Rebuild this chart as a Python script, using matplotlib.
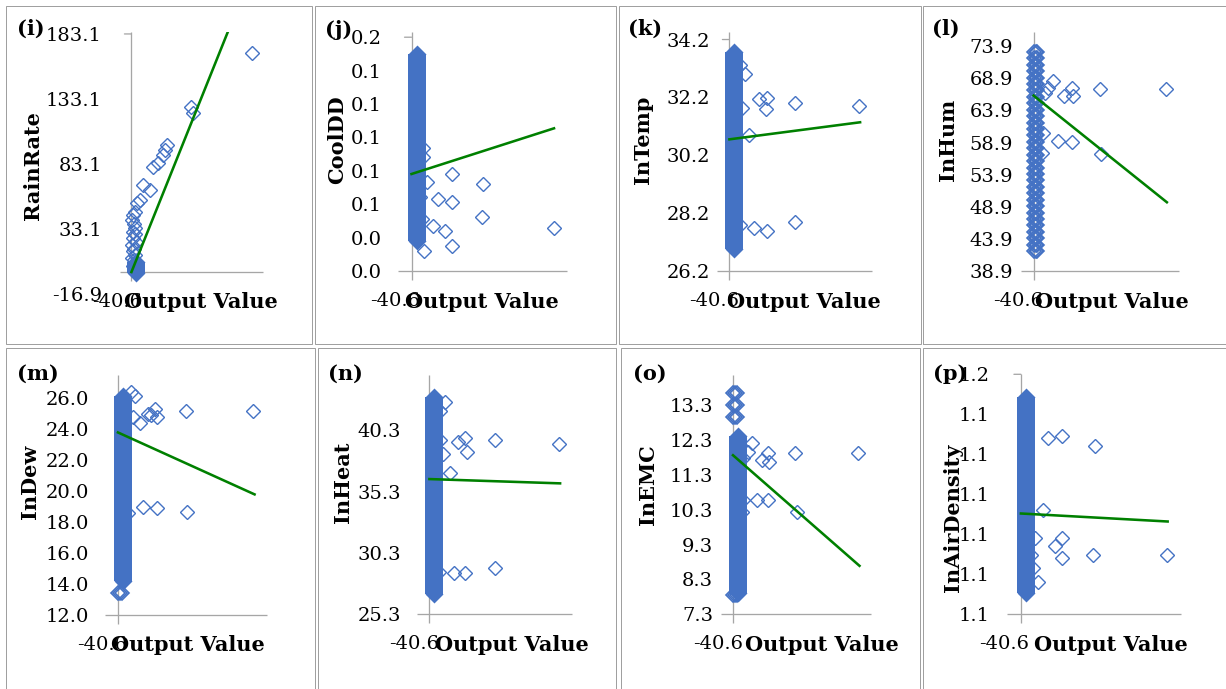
import matplotlib
matplotlib.use('Agg')
import matplotlib.pyplot as plt
from matplotlib.patches import Rectangle

W, H, DPI = 1226, 689, 100
PT = 72.0 / DPI  # points per pixel

BLUE = '#4472C4'
GREEN = '#008000'
AXIS_GRAY = '#a6a6a6'
BORDER = '#a0a0a0'
plt.rcParams['font.family'] = ['DejaVu Serif']

# ---------------- data ----------------
X_MIN, X_MAX = -40.6, 467.0
X_TICK_TEXT = '-40.6'
X_TITLE = 'Output Value'

letters = ['(i)', '(j)', '(k)', '(l)', '(m)', '(n)', '(o)', '(p)']
y_titles = ['RainRate', 'CoolDD', 'InTemp', 'InHum', 'InDew', 'InHeat', 'InEMC', 'InAirDensity']

y_ticks = [
    [-16.9, 33.1, 83.1, 133.1, 183.1],
    [0.0, 0.025, 0.05, 0.075, 0.1, 0.125, 0.15, 0.175],
    [26.2, 28.2, 30.2, 32.2, 34.2],
    [38.9, 43.9, 48.9, 53.9, 58.9, 63.9, 68.9, 73.9],
    [12.0, 14.0, 16.0, 18.0, 20.0, 22.0, 24.0, 26.0],
    [25.3, 30.3, 35.3, 40.3],
    [7.3, 8.3, 9.3, 10.3, 11.3, 12.3, 13.3],
    [1.130, 1.135, 1.140, 1.145, 1.150, 1.155, 1.160],
]
y_tick_labels = [
    ['-16.9', '33.1', '83.1', '133.1', '183.1'],
    ['0.0', '0.0', '0.1', '0.1', '0.1', '0.1', '0.1', '0.2'],
    ['26.2', '28.2', '30.2', '32.2', '34.2'],
    ['38.9', '43.9', '48.9', '53.9', '58.9', '63.9', '68.9', '73.9'],
    ['12.0', '14.0', '16.0', '18.0', '20.0', '22.0', '24.0', '26.0'],
    ['25.3', '30.3', '35.3', '40.3'],
    ['7.3', '8.3', '9.3', '10.3', '11.3', '12.3', '13.3'],
    ['1.1', '1.1', '1.1', '1.1', '1.1', '1.1', '1.2'],
]
y_limits = [(-16.9, 184.6), (0.0, 0.1789), (26.2, 34.46), (38.9, 76.1),
            (12.0, 27.5), (25.3, 44.8), (7.3, 14.16), (1.130, 1.160)]
x_axis_cross = [0.0, 0.0, 26.2, 38.9, 12.0, 25.3, 7.3, 1.130]

# dense cluster of points at Output Value ~ 0 (visible extent of the solid column)
COL_X = 16.0
col_lo = [-7.4, 0.0157, 26.64, None, 13.6, 26.2, 7.66, 1.1315]
col_hi = [14.6, 0.1692, 34.07, None, 26.73, 43.75, 12.68, 1.1583]

# stacked discrete values near Output Value ~ 0 (hollow diamonds)
STACK_X = [0.0, 6.0, 12.0]
stack_y = [
    [],
    [],
    [],
    [42, 43, 44, 45, 46, 47, 48, 49, 50, 51, 52, 53, 54, 55, 56, 57,
     58, 59, 60, 61, 62, 63, 64, 65, 66, 67, 68, 69, 70, 71, 72, 73],
    [13.4],
    [],
    [13.63, 13.30, 12.97, 7.85],
    [],
]

out_x = [
    [428, 211, 219, 126, 119, 112, 94, 76, 41, 66, 30, 20, 13,
     5, 2, 9, 14, 4, 11, 7, 16, 3, 10, 6, 13, 1, 8, 12, 5],
    [35, 35, 121, 46, 216, 26, 80, 121, 213, 31, 65, 101, 429, 38, 121],
    [35, 51, 40, 98, 122, 119, 215, 425, 64, 35, 82, 122, 215],
    [63, 47, 36, 98, 122, 127, 213, 425, 31, 79, 122, 216, 28],
    [40, 53, 48, 69, 95, 116, 121, 105, 212, 424, 79, 121, 216, 30],
    [51, 35, 35, 95, 117, 122, 46, 215, 425, 66, 32, 81, 117, 215],
    [63, 50, 35, 98, 118, 123, 210, 424, 80, 120, 33, 216, 30],
    [80, 119, 216, 64, 40, 119, 99, 119, 211, 425, 30, 35, 50],
]
out_y = [
    [168.5, 126.9, 122.3, 97.7, 93.9, 90.0, 83.9, 80.8, 66.9, 63.1, 55.4, 53.1, 46.2,
     44, 40, 37, 34, 31, 29, 26, 23, 21, 18, 16, 13, 11, 9, 7, 5],
    [0.0918, 0.0856, 0.0726, 0.0668, 0.0651, 0.0556, 0.0539, 0.0514, 0.0402,
     0.0387, 0.0337, 0.0302, 0.0320, 0.0152, 0.0187],
    [33.32, 33.00, 31.82, 32.13, 32.17, 31.79, 31.99, 31.90, 30.90, 27.79, 27.67, 27.59, 27.90],
    [68.4, 67.4, 66.6, 66.1, 67.4, 66.1, 67.2, 67.2, 60.4, 59.2, 59.0, 57.1, 57.3],
    [26.40, 26.15, 24.80, 24.37, 25.00, 25.33, 24.80, 24.90, 25.16, 25.16, 18.99, 18.92, 18.66, 18.60],
    [42.6, 41.9, 39.5, 39.36, 39.63, 38.54, 38.4, 39.5, 39.14, 36.78, 28.72, 28.69, 28.69, 29.05],
    [12.20, 11.94, 11.77, 11.72, 11.93, 11.67, 11.91, 11.91, 10.58, 10.58, 10.58, 10.22, 10.24],
    [1.1520, 1.1523, 1.1510, 1.1430, 1.1396, 1.1395, 1.1385, 1.1371, 1.1374,
     1.1374, 1.1374, 1.1358, 1.1340],
]

trend_x = [0, 428]
trend_y = [
    [0.0, 231.0],
    [0.0726, 0.1068],
    [30.75, 31.34],
    [66.2, 49.6],
    [23.79, 19.79],
    [36.32, 35.97],
    [11.86, 8.69],
    [1.1426, 1.1416],
]

# ---------------- layout (pixels) ----------------
axes_px = [(120, 263, 294, 32), (398, 567, 271, 32), (717, 872, 271, 32), (1021, 1179, 271, 32),
           (105, 267, 615, 375), (417, 572, 614.3, 375), (721, 871, 614.3, 375), (1007, 1181, 614.3, 374.3)]
ylab_pad_px = [18, 16, 7, 8, 16, 16, 8, 17]
top_tick = [True, True, True, False, False, False, False, True]
letter_pos = [(17, 29), (325, 30), (628, 29), (932, 29), (17, 374), (328, 374), (633, 374), (933, 374)]
ytitle_pos = [(33, 166), (337, 140), (643, 140), (948, 140), (30, 482), (343, 482), (648, 485), (953, 518)]
xtitle_pos = [(201, 302), (482, 302), (804, 302), (1112, 302), (188, 645), (512, 645), (822, 645), (1111, 645)]
cells_px = [(6, 312, 6, 344), (315, 616, 6, 344), (619, 921, 6, 344), (923, 1230, 6, 344),
            (6, 315, 348, 700), (318, 616, 348, 700), (621, 920, 348, 700), (923, 1230, 348, 700)]

TICK_FS = 14
TITLE_FS = 15
MS = 7.0

fig = plt.figure(figsize=(W / DPI, H / DPI), dpi=DPI)
fig.patch.set_facecolor('white')


def fx(px):
    return px / W


def fy(py):
    return 1 - py / H


for (x0, x1, y0, y1) in cells_px:
    fig.add_artist(Rectangle((fx(x0), fy(y1)), fx(x1) - fx(x0), fy(y0) - fy(y1),
                             transform=fig.transFigure, fill=False,
                             edgecolor=BORDER, lw=1.0 * PT, snap=True))

for i in range(8):
    L, R, B, T = axes_px[i]
    ax = fig.add_axes([fx(L), fy(B), fx(R) - fx(L), fy(T) - fy(B)])
    ax.set_facecolor('none')
    ylo, yhi = y_limits[i]
    ax.set_xlim(X_MIN, X_MAX)
    ax.set_ylim(ylo, yhi)
    dpp = (yhi - ylo) / (B - T)  # data per pixel (y)
    for s in ax.spines.values():
        s.set_visible(False)
    ax.set_xticks([])
    ax.set_yticks(y_ticks[i])
    ax.set_yticklabels(y_tick_labels[i], fontsize=TICK_FS)
    ax.tick_params(axis='y', length=0, pad=ylab_pad_px[i] * PT)

    yc = x_axis_cross[i]
    # axis lines
    ax.plot([X_MIN, X_MAX], [yc, yc], color=AXIS_GRAY, lw=1.3 * PT, zorder=1,
            clip_on=False, solid_capstyle='butt')
    ax.plot([0, 0], [yc - 9 * dpp, yhi], color=AXIS_GRAY, lw=1.3 * PT, zorder=1,
            clip_on=False, solid_capstyle='butt')
    if top_tick[i]:
        top_val = y_ticks[i][-1]
        ax.annotate('', xy=(0, top_val), xytext=(-7 * PT, 0), textcoords='offset points',
                    arrowprops=dict(arrowstyle='-', color=AXIS_GRAY, lw=1.3 * PT,
                                    shrinkA=0, shrinkB=0))

    # dense column
    if col_lo[i] is not None:
        half = 9
        lo_c = col_lo[i] + half * dpp
        hi_c = col_hi[i] - half * dpp
        ax.plot([COL_X, COL_X], [lo_c, hi_c], color=BLUE, lw=18 * PT,
                solid_capstyle='butt', zorder=2)
        ax.plot([COL_X, COL_X], [lo_c, hi_c], ls='none', marker='D',
                ms=18 * PT / 1.414, mfc=BLUE, mec='none', zorder=2)

    # stacked values
    for sx in STACK_X:
        if stack_y[i]:
            ax.plot([sx] * len(stack_y[i]), stack_y[i], ls='none', marker='D', ms=MS,
                    mfc='none', mec=BLUE, mew=1.2, zorder=2, clip_on=False)

    # outliers
    ax.plot(out_x[i], out_y[i], ls='none', marker='D', ms=MS, mfc='none',
            mec=BLUE, mew=1.0, zorder=2, clip_on=False)

    # trend line
    ax.plot(trend_x, trend_y[i], color=GREEN, lw=1.85, zorder=3)

    # x tick label at minimum
    ax.annotate(X_TICK_TEXT, xy=(X_MIN, yc), xytext=(-3 * PT, -30 * PT),
                textcoords='offset points', ha='center', va='center', fontsize=TICK_FS)

    # titles
    lx, ly = letter_pos[i]
    fig.text(fx(lx), fy(ly), letters[i], ha='left', va='center', fontsize=TITLE_FS,
             fontweight='bold')
    tx, ty = ytitle_pos[i]
    fig.text(fx(tx), fy(ty), y_titles[i], ha='center', va='center', rotation=90,
             fontsize=TITLE_FS, fontweight='bold')
    xx, xy = xtitle_pos[i]
    fig.text(fx(xx), fy(xy), X_TITLE, ha='center', va='center', fontsize=TITLE_FS,
             fontweight='bold')

fig.savefig('out.png', dpi=DPI, facecolor='white')
